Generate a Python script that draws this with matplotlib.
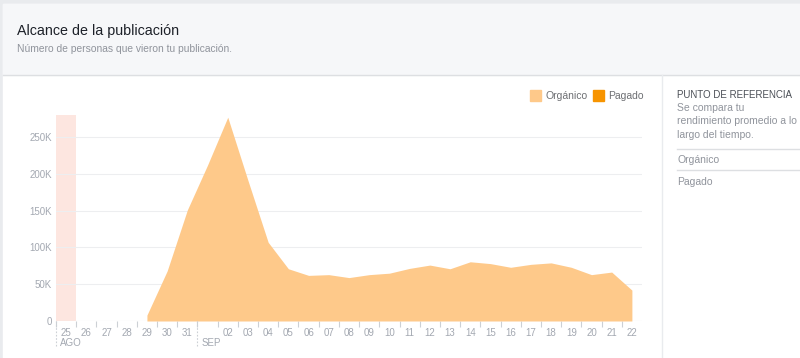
import numpy as np
import matplotlib.pyplot as plt
from matplotlib.patches import Rectangle
from matplotlib.lines import Line2D

plt.rcParams['font.family'] = ['Liberation Sans', 'DejaVu Sans']

# data (daily reach, thousands)
day_labels = ['25', '26', '27', '28', '29', '30', '31', '', '02', '03', '04', '05',
              '06', '07', '08', '09', '10', '11', '12', '13', '14', '15', '16',
              '17', '18', '19', '20', '21', '22']
month_labels = ['AGO', 'SEP']
month_start = [0, 7]
organico = [np.nan] * 4 + [8, 68, 151, 212, 277, 191, 107, 71, 62, 63, 59, 63, 65,
                           71.5, 76, 71, 80.5, 78, 73, 77, 79, 73, 63, 66.5, 42]
pagado = [0] * len(day_labels)
y_ticks = [0, 50, 100, 150, 200, 250]
y_tick_labels = ['0', '50K', '100K', '150K', '200K', '250K']

W, H = 800, 358
GREY = '#a3a8b1'
DARK = '#4b4f56'
LINE = '#dddfe2'


def fx(x):
    return x / W


def fy(y):
    return 1 - y / H


fig = plt.figure(figsize=(8, 3.58), dpi=100, facecolor='white')

# page frame and header
fig.add_artist(Rectangle((0, 0), 1, 1, transform=fig.transFigure, color='#e9ebee', zorder=0))
fig.add_artist(Rectangle((fx(3), 0), 1, fy(4), transform=fig.transFigure, color='white', zorder=0))
fig.add_artist(Rectangle((fx(3), fy(75)), 1, fy(4) - fy(75), transform=fig.transFigure,
                         color='#f6f7f9', zorder=0))
fig.add_artist(Line2D([fx(3), 1], [fy(75), fy(75)], transform=fig.transFigure, color=LINE, lw=1))
fig.add_artist(Line2D([fx(662), fx(662)], [0, fy(75)], transform=fig.transFigure,
                      color='#e9ebee', lw=1))

fig.text(fx(17), fy(31), 'Alcance de la publicación', fontsize=10.3, color='#1d2129', va='center')
fig.text(fx(17), fy(49), 'Número de personas que vieron tu publicación.', fontsize=7.4,
         color='#90949c', va='center')

# right panel
fig.text(fx(677), fy(95), 'PUNTO DE REFERENCIA', fontsize=7, color=DARK, va='center')
for txt, yy in [('Se compara tu', 108), ('rendimiento promedio a lo', 121),
                ('largo del tiempo.', 135), ('Orgánico', 160), ('Pagado', 182)]:
    fig.text(fx(677), fy(yy), txt, fontsize=7.5, color='#90949c', va='center')
for yy in [149, 170]:
    fig.add_artist(Line2D([fx(677), 1], [fy(yy), fy(yy)], transform=fig.transFigure,
                          color=LINE, lw=1))

# legend
for x0, col, txt in [(530, '#fec98a', 'Orgánico'), (593, '#f79400', 'Pagado')]:
    fig.add_artist(Rectangle((fx(x0), fy(101)), 11 / W, 11 / H, transform=fig.transFigure,
                             color=col))
    fig.text(fx(x0 + 15), fy(96), txt, fontsize=7.5, color='#6d6f73', va='center')

# chart
ax = fig.add_axes([fx(56), fy(321), (642 - 56) / W, (321 - 115) / H])
ax.set_facecolor('none')
x = np.arange(len(day_labels))
org = np.array(organico) * 1000
pag = np.array(pagado) * 1000
ax.axvspan(-0.5, 0.5, color='#fde6e0', lw=0, zorder=0)
ax.fill_between(x, 0, org, color='#fec98a', lw=0, zorder=2)
ax.fill_between(x, org, org + pag, color='#f79400', lw=0, zorder=2)

ax.set_xlim(-0.5, len(day_labels) - 0.5)
ax.set_ylim(0, 280000)
for t in y_ticks[1:]:
    ax.axhline(t * 1000, color='#edeef0', lw=0.8, zorder=1)
ax.axhline(0, color='#e4e6ea', lw=0.8, zorder=1)
ax.set_yticks([t * 1000 for t in y_ticks])
ax.set_yticklabels(y_tick_labels)
ax.tick_params(axis='y', length=0, labelsize=7, labelcolor=GREY, pad=3)

ax.set_xticks(x)
ax.set_xticklabels(day_labels)
ax.tick_params(axis='x', length=0, labelsize=7, labelcolor=GREY, pad=5)
ax.set_xticks(np.arange(len(day_labels)) - 0.5, minor=True)
ax.tick_params(axis='x', which='minor', length=4, color='#ccd0d5', width=0.8)

for s in ax.spines.values():
    s.set_visible(False)

# month separators and labels
for m, lab in zip(month_start, month_labels):
    ax.plot([m - 0.5, m - 0.5], [0, -0.125], transform=ax.get_xaxis_transform(),
            color='#ccd0d5', lw=0.8, ls=(0, (1.5, 1.5)), clip_on=False)
    ax.text(m - 0.3, -0.105, lab, transform=ax.get_xaxis_transform(), fontsize=7,
            color=GREY, va='center', ha='left')

fig.savefig('out.png', dpi=100, facecolor=fig.get_facecolor())
